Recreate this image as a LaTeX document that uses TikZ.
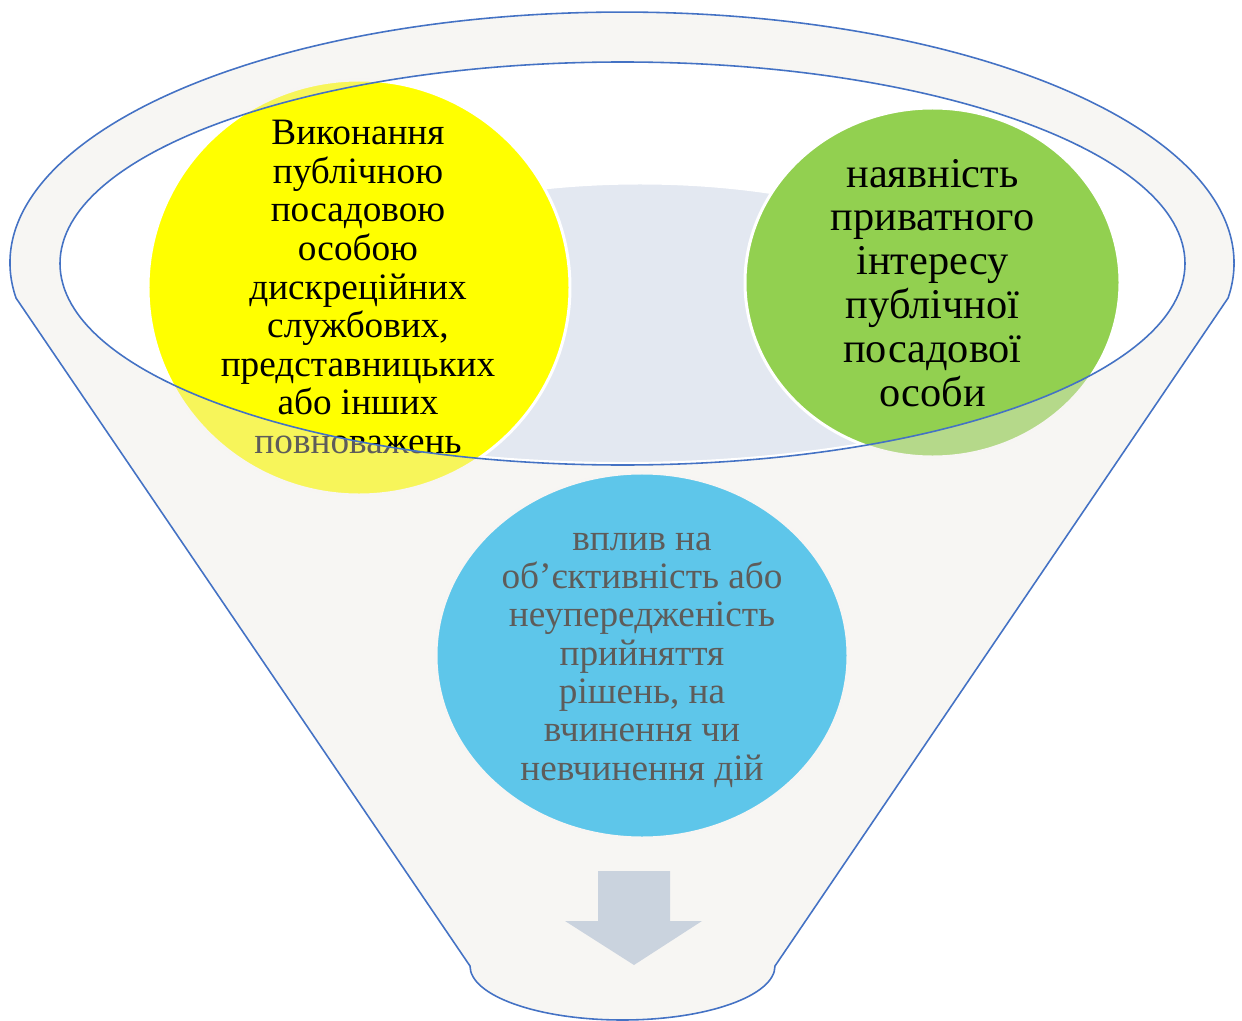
\documentclass[tikz,border=0pt]{standalone}
\usepackage{fontspec}
\setmainfont{Liberation Serif}
\usetikzlibrary{positioning}

\definecolor{funnelline}{RGB}{68,114,196}
\definecolor{funnelfill}{RGB}{235,232,225}
\definecolor{backdisc}{RGB}{227,232,241}
\definecolor{discyellow}{RGB}{255,255,0}
\definecolor{discgreen}{RGB}{146,208,80}
\definecolor{discblue}{RGB}{0,176,240}
\definecolor{arrowgray}{RGB}{202,211,222}

\tikzset{
  disc/.style={draw=white, line width=1.7pt},
  disctext/.style={align=center, inner sep=0pt, text=black},
  funnelpath/.style={funnelline, line width=0.9pt}
}

\begin{document}
\begin{tikzpicture}[x=0.02cm, y=-0.02cm]
\useasboundingbox (0,0) rectangle (1242,1021);

\begin{scope}
  \clip (622.5,263.5) ellipse [x radius=562.5, y radius=201.5];
  \path[disc, fill=backdisc] (640,330) ellipse [x radius=370, y radius=147];
  \draw[white, line width=3.4pt] (622.5,263.5) ellipse [x radius=562.5, y radius=201.5];
\end{scope}

\path[disc, fill=discyellow] (359,287.5) ellipse [x radius=211, y radius=207.5];
\node[disctext, font=\fontsize{21.2}{22}\selectfont] (vykon) at (358,287)
  {Виконання\\публічною\\посадовою\\особою\\дискреційних\\службових,\\представницьких\\або інших\\повноважень};

\path[disc, fill=discgreen] (932.5,282.5) ellipse [x radius=187.5, y radius=174.5];
\node[disctext, font=\fontsize{24.1}{25}\selectfont] (interes) at (932.5,283)
  {наявність\\приватного\\інтересу\\публічної\\посадової\\особи};

\path[disc, fill=discblue] (642,655.5) ellipse [x radius=206, y radius=182.5];
\node[disctext, font=\fontsize{21.2}{21.8}\selectfont] (vplyv) at (642,660)
  {вплив на\\об’єктивність або\\неупередженість\\прийняття\\рішень, на\\вчинення чи\\невчинення дій};

\fill[funnelfill, fill opacity=0.4, even odd rule]
  (16,298) arc [start angle=172, end angle=368, x radius=612, y radius=251]
  -- (775,966) arc [start angle=0, end angle=180, x radius=152.5, y radius=54] -- cycle
  (622.5,263.5) ellipse [x radius=562.5, y radius=201.5];

\draw[funnelpath]
  (16,298) arc [start angle=172, end angle=368, x radius=612, y radius=251]
  -- (775,966) arc [start angle=0, end angle=180, x radius=152.5, y radius=54] -- cycle;
\draw[funnelpath] (622.5,263.5) ellipse [x radius=562.5, y radius=201.5];

\fill[arrowgray] (598,871) -- (670,871) -- (670,921) -- (702,921) -- (634,965)
  -- (565,921) -- (598,921) -- cycle;
\end{tikzpicture}
\end{document}
